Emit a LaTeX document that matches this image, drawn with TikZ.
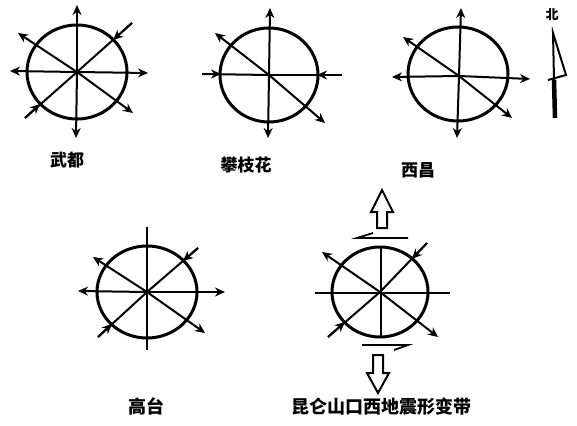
\documentclass[tikz,border=0pt]{standalone}
\usepackage{fontspec}
\newfontfamily\cjk{Noto Sans CJK SC}
\usetikzlibrary{arrows.meta}
\tikzset{
  ring/.style={line width=3pt},
  ray/.style={line width=2pt},
  outarrow/.style={ray,-{Stealth[length=10pt,width=9pt]}},
  inarrow/.style={ray,-{Stealth[length=10pt,width=9pt]}},
  lbl/.style={font=\cjk\bfseries\fontsize{17}{17}\selectfont, inner sep=0pt},
  biglbl/.style={font=\cjk\bfseries\fontsize{18}{18}\selectfont, inner sep=0pt},
  dbl/.style={line width=2pt, line join=miter},
  half/.style={line width=1.8pt}
}
\begin{document}
\begin{tikzpicture}[x=1pt,y=-1pt]
\useasboundingbox (0,0) rectangle (577,425);
% ---------- 武都 ----------
\coordinate (c1) at (77,72);
\draw[ring] (c1) ellipse [x radius=50, y radius=47];
\coordinate (n1) at (77,5);  \coordinate (s1) at (76,138);
\coordinate (w1) at (10,71); \coordinate (e1) at (148,73);
\coordinate (nw1) at (18,33); \coordinate (se1) at (133,113);
\coordinate (ne1) at (132,23); \coordinate (ne1t) at (113,40);
\coordinate (sw1) at (25,118); \coordinate (sw1t) at (40,104);
\draw[outarrow] (c1) -- (n1);
\draw[outarrow] (c1) -- (s1);
\draw[outarrow] (c1) -- (w1);
\draw[outarrow] (c1) -- (e1);
\draw[outarrow] (c1) -- (nw1);
\draw[outarrow] (c1) -- (se1);
\draw[ray] (ne1) -- (c1); \draw[inarrow] (ne1) -- (ne1t);
\draw[ray] (sw1) -- (c1); \draw[inarrow] (sw1) -- (sw1t);
\node[lbl] (t1) at (67,160) {武都};
% ---------- 攀枝花 ----------
\coordinate (c2) at (269,75);
\draw[ring] (c2) ellipse [x radius=49, y radius=47];
\coordinate (n2) at (270,8);  \coordinate (s2) at (268,138);
\coordinate (w2) at (202,74); \coordinate (w2t) at (221,74);
\coordinate (e2) at (342,75); \coordinate (e2t) at (317,75);
\coordinate (nw2) at (215,33); \coordinate (se2) at (325,123);
\draw[outarrow] (c2) -- (n2);
\draw[outarrow] (c2) -- (s2);
\draw[outarrow] (c2) -- (nw2);
\draw[outarrow] (c2) -- (se2);
\draw[ray] (w2) -- (c2); \draw[inarrow] (w2) -- (w2t);
\draw[ray] (e2) -- (c2); \draw[inarrow] (e2) -- (e2t);
\node[lbl] (t2) at (246,165) {攀枝花};
% ---------- 西昌 ----------
\coordinate (c3) at (459,76);
\draw[ring] (458,74) ellipse [x radius=50, y radius=47];
\coordinate (n3) at (461,8);  \coordinate (s3) at (457,138);
\coordinate (w3) at (392,77); \coordinate (e3) at (530,79);
\coordinate (nw3) at (403,37); \coordinate (se3) at (512,118);
\draw[outarrow] (c3) -- (n3);
\draw[outarrow] (c3) -- (s3);
\draw[outarrow] (c3) -- (w3);
\draw[outarrow] (c3) -- (e3);
\draw[outarrow] (c3) -- (nw3);
\draw[outarrow] (c3) -- (se3);
\node[lbl] (t3) at (418,170) {西昌};
% ---------- 北 ----------
\node[font=\cjk\bfseries\fontsize{13}{13}\selectfont, inner sep=0pt] (north) at (552,15) {北};
\coordinate (nt) at (553,33); \coordinate (nm) at (554,80); \coordinate (nb) at (555,118);
\coordinate (nr) at (566,75); \coordinate (nl) at (548,80);
\draw[line width=2pt, line join=miter] (nm) -- (nt) -- (nr) -- (nl);
\draw[line width=4.5pt] (nm) -- (nb);
% ---------- 高台 ----------
\coordinate (c4) at (147,292);
\draw[ring] (c4) ellipse [x radius=50, y radius=46];
\coordinate (n4) at (147,227); \coordinate (s4) at (147,350);
\coordinate (w4) at (78,291); \coordinate (e4) at (225,292);
\coordinate (nw4) at (93,257); \coordinate (se4) at (205,333);
\coordinate (ne4) at (198,248); \coordinate (ne4t) at (183,261);
\coordinate (sw4) at (98,337); \coordinate (sw4t) at (112,324);
\draw[ray] (n4) -- (s4);
\draw[outarrow] (c4) -- (w4);
\draw[outarrow] (c4) -- (e4);
\draw[outarrow] (c4) -- (nw4);
\draw[outarrow] (c4) -- (se4);
\draw[ray] (ne4) -- (c4); \draw[inarrow] (ne4) -- (ne4t);
\draw[ray] (sw4) -- (c4); \draw[inarrow] (sw4) -- (sw4t);
\node[biglbl] (t4) at (146,406) {高台};
% ---------- 昆仑山口西 ----------
\coordinate (c5) at (380,292);
\draw[ring] (c5) ellipse [x radius=48, y radius=45];
\coordinate (n5) at (381,247); \coordinate (s5) at (381,337);
\coordinate (w5) at (315,293); \coordinate (e5) at (450,293);
\coordinate (nw5) at (322,252); \coordinate (se5) at (438,337);
\coordinate (ne5) at (427,243); \coordinate (ne5t) at (412,259);
\coordinate (sw5) at (328,337); \coordinate (sw5t) at (345,322);
\draw[ray] (n5) -- (s5);
\draw[ray] (w5) -- (e5);
\draw[outarrow] (c5) -- (nw5);
\draw[outarrow] (c5) -- (se5);
\draw[ray] (ne5) -- (c5); \draw[inarrow] (ne5) -- (ne5t);
\draw[ray] (sw5) -- (c5); \draw[inarrow] (sw5) -- (sw5t);
% half arrows
\coordinate (ha1) at (408,238); \coordinate (ha1t) at (357,238); \coordinate (ha1b) at (373,233);
\draw[half] (ha1) -- (ha1t) -- (ha1b);
\coordinate (ha2) at (362,345); \coordinate (ha2t) at (408,345); \coordinate (ha2b) at (394,350);
\draw[half] (ha2) -- (ha2t) -- (ha2b);
% double arrows
\draw[dbl] (377,228) -- (377,212) -- (371,212) -- (382,190) -- (393,212) -- (387,212) -- (387,228) -- cycle;
\draw[dbl] (373,355) -- (373,373) -- (367,373) -- (378,393) -- (389,373) -- (383,373) -- (383,355) -- cycle;
\node[biglbl] (t5) at (381,407) {昆仑山口西地震形变带};
\end{tikzpicture}
\end{document}
